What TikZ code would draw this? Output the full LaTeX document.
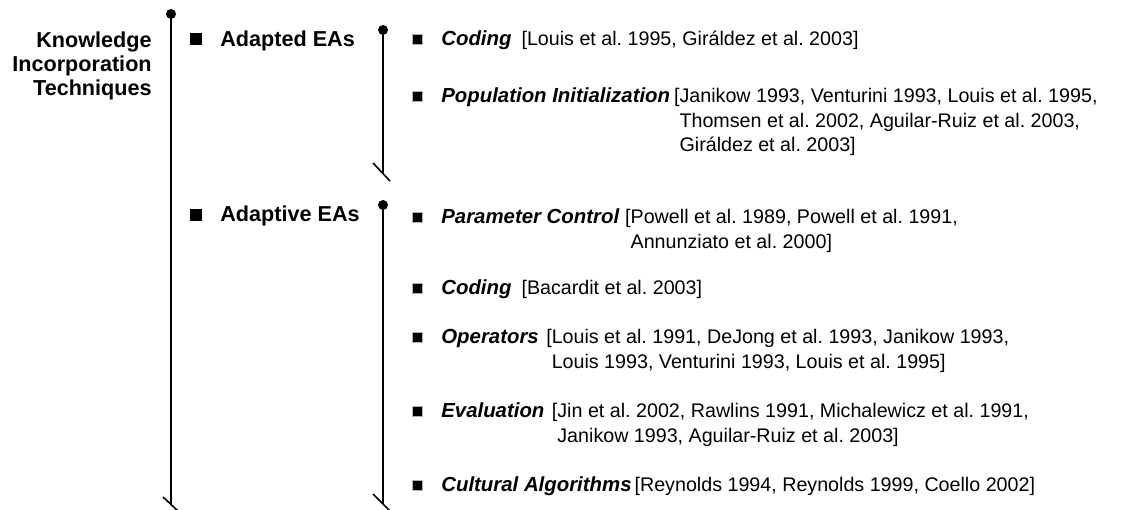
\documentclass[tikz,border=0pt]{standalone}
\usepackage{fontspec}
\setmainfont{Liberation Sans}
\frenchspacing
\newcommand{\itemtitle}[1]{{\fontsize{11.6}{13.7}\selectfont\bfseries\itshape #1}}
\newcommand{\reflist}[1]{\begin{tabular}[t]{@{}l@{}}#1\end{tabular}}
\tikzset{
	hd/.style={font=\fontsize{12.3}{13.4}\selectfont\bfseries, inner sep=0pt},
	itm/.style={font=\fontsize{11.2}{13.7}\selectfont, inner sep=0pt, anchor=base west},
	bigsq/.style={fill=black, minimum size=0.24cm, inner sep=0pt},
	smallsq/.style={fill=black, draw=gray!60, thin, minimum size=0.2cm, inner sep=0pt},
	brace/.style={draw=black, line width=0.9pt},
}
\begin{document}
\begin{tikzpicture}
		\useasboundingbox (0,0) rectangle (22.46,10.20);
		% brackets
		\coordinate (maintop) at (3.42,9.92);
		\coordinate (mainbot) at (3.42,0.11);
		\coordinate (adtop) at (7.66,9.60);
		\coordinate (adbot) at (7.66,6.73);
		\coordinate (avtop) at (7.66,6.10);
		\coordinate (avbot) at (7.66,0.12);
		\draw[brace] (maintop) -- (mainbot);
		\draw[brace] (adtop) -- (adbot);
		\draw[brace] (avtop) -- (avbot);
		\fill (maintop) circle (0.1);
		\fill (adtop) circle (0.1);
		\fill (avtop) circle (0.1);
		\draw[brace] ([shift={(-0.16,0.15)}]mainbot) -- ([shift={(0.14,-0.13)}]mainbot);
		\draw[brace] ([shift={(-0.20,0.21)}]adbot) -- ([shift={(0.14,-0.15)}]adbot);
		\draw[brace] ([shift={(-0.20,0.20)}]avbot) -- ([shift={(0.14,-0.14)}]avbot);
		% first level
		\node[hd, anchor=base east] (kit) at (3.04,9.24) {\begin{tabular}[t]{@{}r@{}}Knowledge\\Incorporation\\Techniques\end{tabular}};
		\node[bigsq] (sqad) at (3.92,9.42) {};
		\node[hd, anchor=base west] (adapted) at (4.40,9.26) {Adapted EAs};
		\node[bigsq] (sqav) at (3.92,5.90) {};
		\node[hd, anchor=base west] (adaptive) at (4.40,5.76) {Adaptive EAs};
		% adapted EAs
		\node[smallsq] (sq1) at (8.34,9.42) {};
		\node[itm] (adcod) at (8.82,9.28) {\itemtitle{Coding}\hspace{0.2cm}\reflist{[Louis et al. 1995, Giráldez et al. 2003]}};
		\node[smallsq] (sq2) at (8.34,8.28) {};
		\node[itm] (adpop) at (8.82,8.14) {\itemtitle{Population Initialization}\hspace{0.08cm}\reflist{[Janikow 1993, Venturini 1993, Louis et al. 1995,\\\phantom{[}Thomsen et al. 2002, Aguilar-Ruiz et al. 2003,\\\phantom{[}Giráldez et al. 2003]}};
		% adaptive EAs
		\node[smallsq] (sq3) at (8.34,5.86) {};
		\node[itm] (avpar) at (8.82,5.72) {\itemtitle{Parameter Control}\hspace{0.12cm}\reflist{[Powell et al. 1989, Powell et al. 1991,\\\phantom{[}Annunziato et al. 2000]}};
		\node[smallsq] (sq4) at (8.34,4.44) {};
		\node[itm] (avcod) at (8.82,4.30) {\itemtitle{Coding}\hspace{0.2cm}\reflist{[Bacardit et al. 2003]}};
		\node[smallsq] (sq5) at (8.34,3.46) {};
		\node[itm] (avope) at (8.82,3.32) {\itemtitle{Operators}\hspace{0.15cm}\reflist{[Louis et al. 1991, DeJong et al. 1993, Janikow 1993,\\\phantom{[}Louis 1993, Venturini 1993, Louis et al. 1995]}};
		\node[smallsq] (sq6) at (8.34,1.98) {};
		\node[itm] (aveva) at (8.82,1.84) {\itemtitle{Evaluation}\hspace{0.15cm}\reflist{[Jin et al. 2002, Rawlins 1991, Michalewicz et al. 1991,\\\phantom{[}Janikow 1993, Aguilar-Ruiz et al. 2003]}};
		\node[smallsq] (sq7) at (8.34,0.50) {};
		\node[itm] (avcul) at (8.82,0.36) {\itemtitle{Cultural Algorithms}\hspace{0.06cm}\reflist{[Reynolds 1994, Reynolds 1999, Coello 2002]}};
	\end{tikzpicture}
\end{document}
